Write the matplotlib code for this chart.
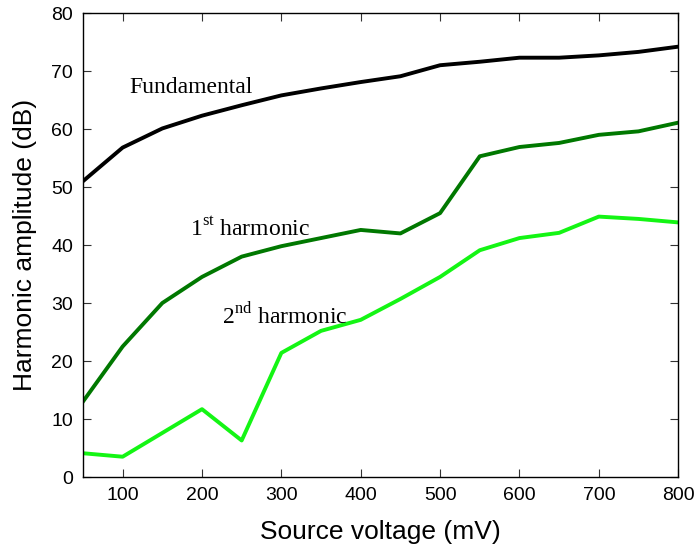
import matplotlib
matplotlib.use("Agg")
import matplotlib.pyplot as plt

voltage = [50, 100, 150, 200, 250, 300, 350, 400, 450, 500, 550, 600, 650, 700, 750, 800]
fundamental = [51.0, 56.8, 60.1, 62.3, 64.1, 65.8, 67.0, 68.1, 69.1, 71.0, 71.6, 72.3, 72.3, 72.7, 73.3, 74.2]
harmonic1 = [13.0, 22.5, 30.0, 34.5, 38.0, 39.8, 41.2, 42.6, 42.0, 45.5, 55.3, 56.9, 57.6, 59.0, 59.6, 61.1]
harmonic2 = [4.1, 3.5, 7.6, 11.7, 6.3, 21.4, 25.2, 27.1, 30.7, 34.5, 39.1, 41.2, 42.1, 44.9, 44.5, 43.9]

plt.rcParams['mathtext.fontset'] = 'custom'
plt.rcParams['mathtext.rm'] = 'Liberation Serif'

fig = plt.figure(figsize=(6.97, 5.5), dpi=100)
ax = fig.add_axes([0.119, 0.1327, 0.854, 0.8436])

ax.plot(voltage, fundamental, color='black', lw=2.8)
ax.plot(voltage, harmonic1, color='#007800', lw=2.8)
ax.plot(voltage, harmonic2, color='#14f514', lw=2.8)

serif = dict(family='Liberation Serif', fontsize=17)
ax.text(109, 66.2, 'Fundamental', **serif)
ax.text(185, 41.6, r'1$^{\mathrm{st}}$ harmonic', **serif)
ax.text(225, 26.4, r'2$^{\mathrm{nd}}$ harmonic', **serif)

ax.set_xlim(50, 800)
ax.set_ylim(0, 80)
ax.set_xticks(range(100, 801, 100))
ax.set_yticks(range(0, 81, 10))
ax.tick_params(direction='in', top=True, right=True, length=6, width=0.8,
               labelsize=14, color='#333333', pad=7)
for lab in ax.get_xticklabels() + ax.get_yticklabels():
    lab.set_family('Liberation Sans')
for sp in ax.spines.values():
    sp.set_linewidth(1.0)

ax.set_xlabel('Source voltage (mV)', family='Liberation Sans', fontsize=19, labelpad=12)
ax.set_ylabel('Harmonic amplitude (dB)', family='Liberation Sans', fontsize=19, labelpad=10)

fig.savefig('out.png', dpi=100)
